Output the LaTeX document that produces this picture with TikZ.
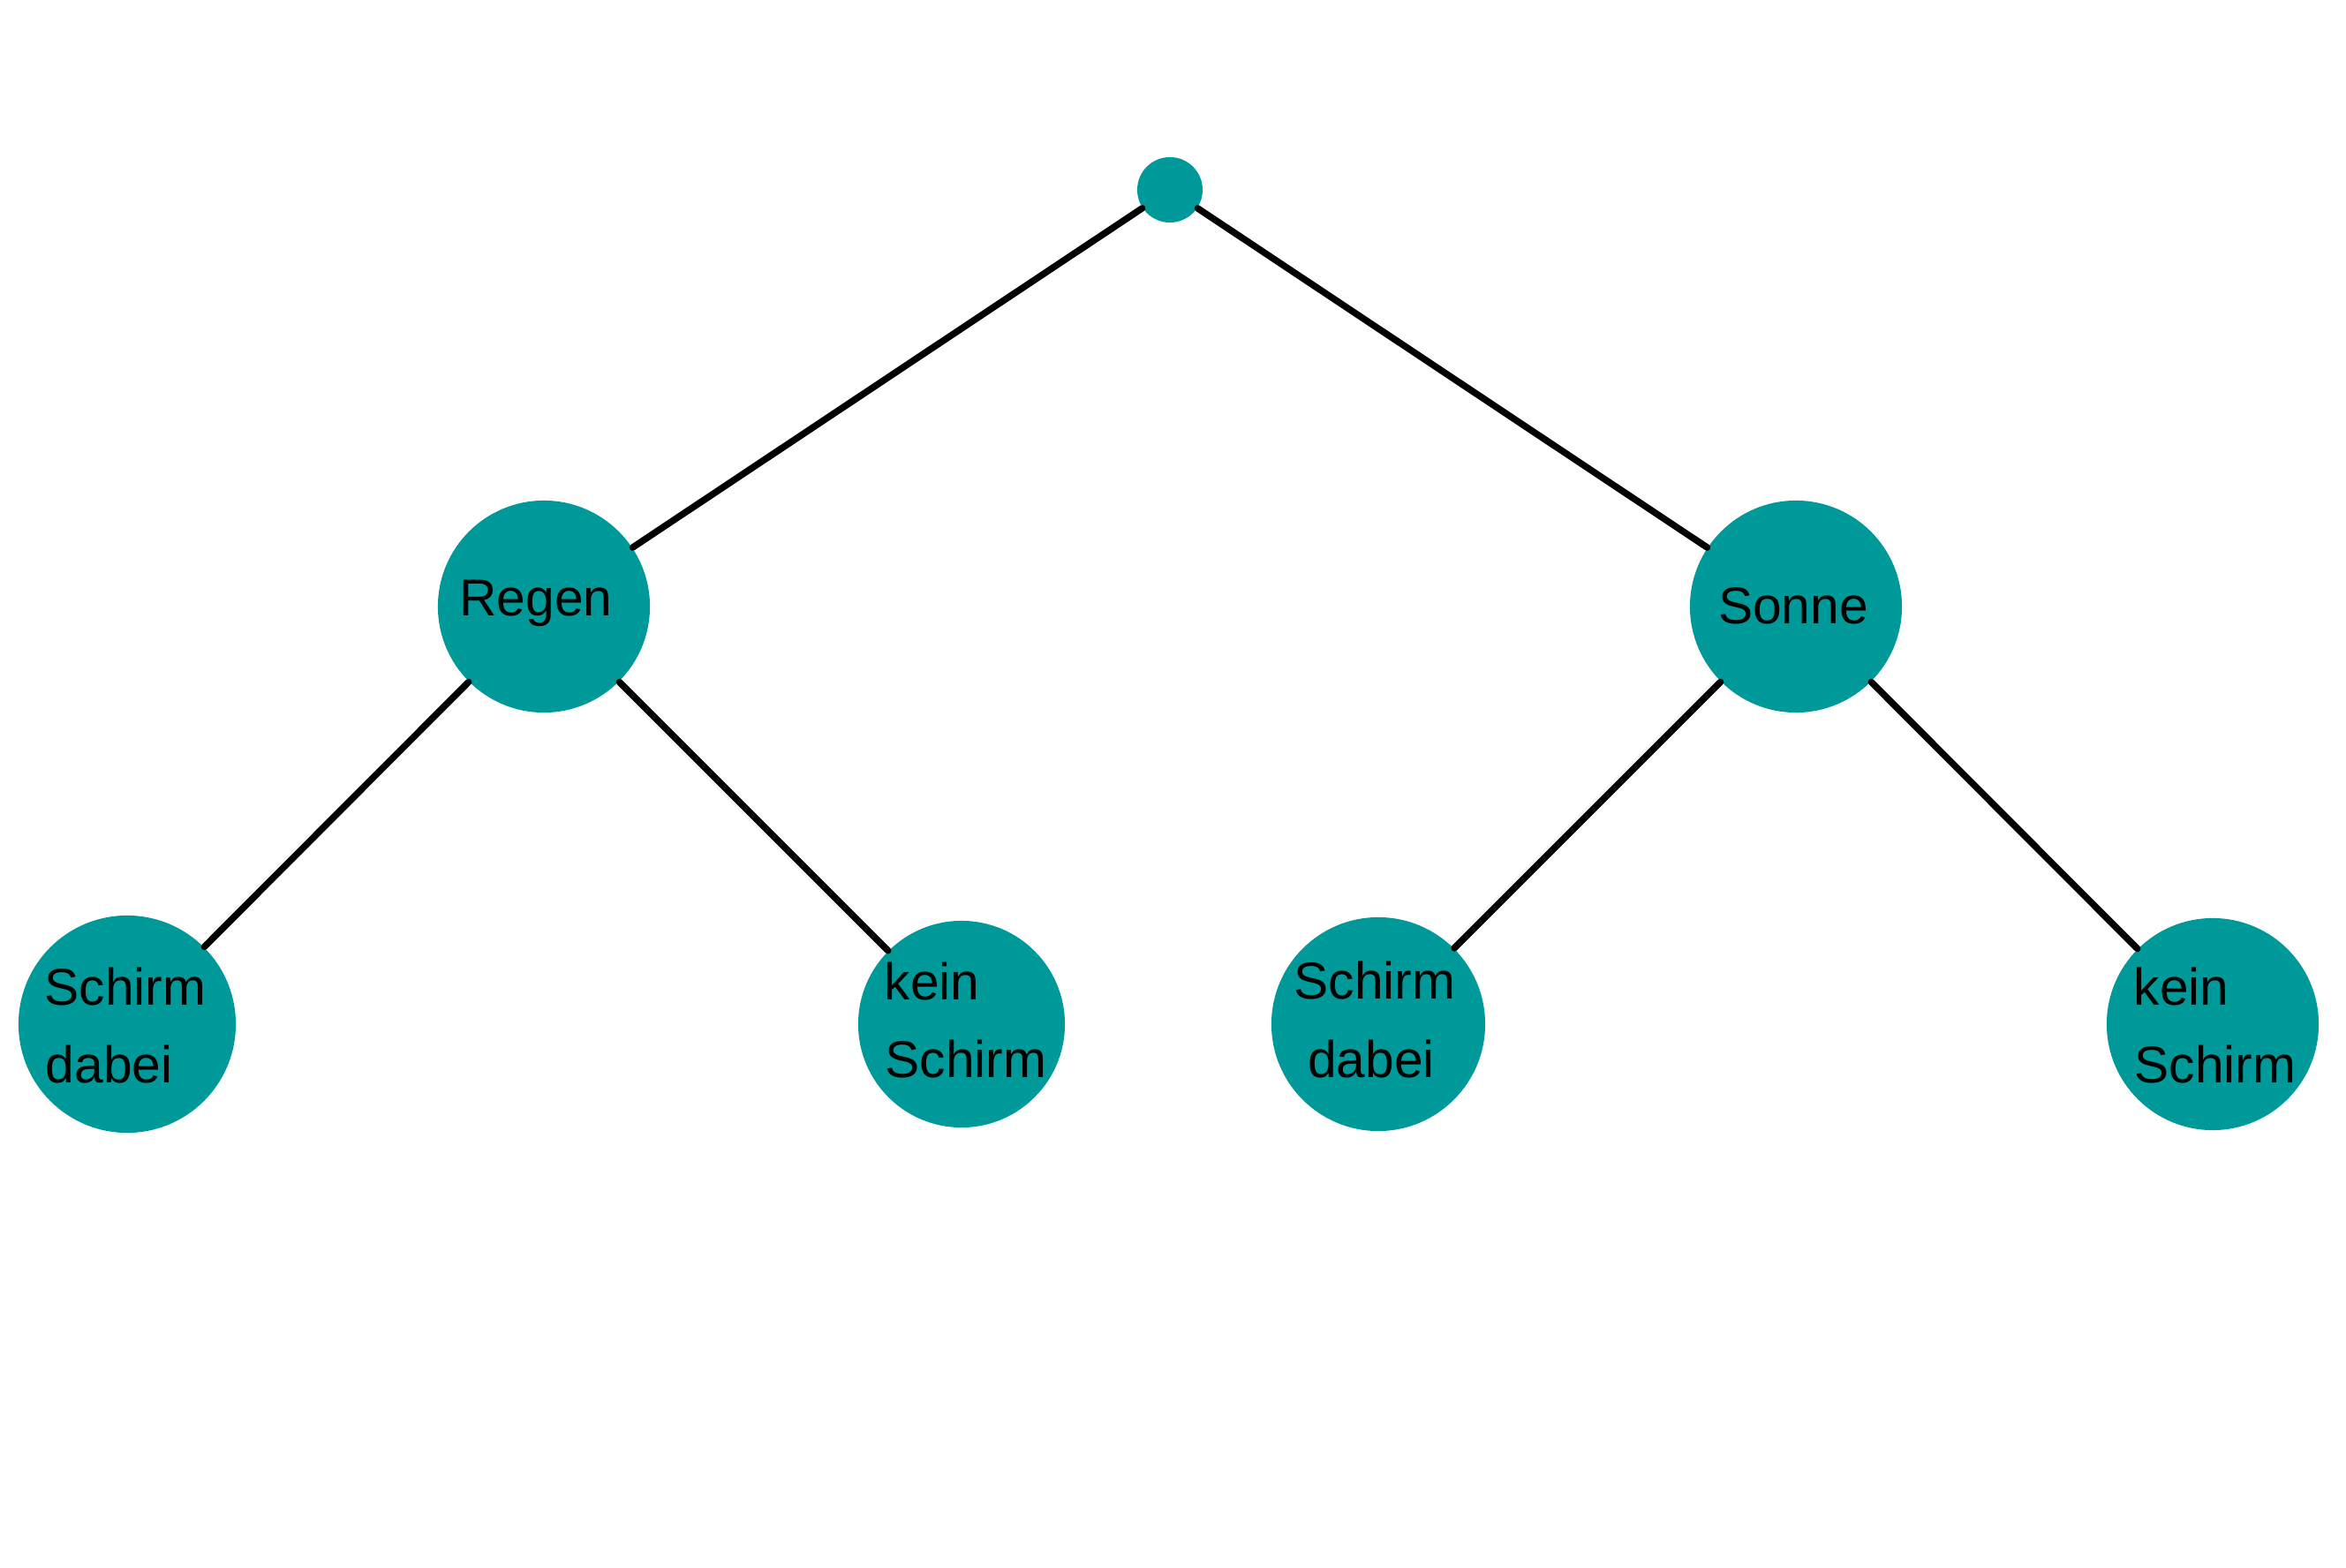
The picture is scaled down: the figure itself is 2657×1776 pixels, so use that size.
\documentclass[tikz,border=0pt]{standalone}
\usepackage{fontspec}
\setmainfont{Liberation Sans}
\definecolor{tealfill}{HTML}{009999}
\begin{document}
\begin{tikzpicture}[x=0.01cm,y=-0.01cm,
  tnode/.style={circle,fill=tealfill,inner sep=0pt,minimum size=#1},
  edge/.style={line width=0.075cm,line cap=round,black},
  lbl/.style={inner sep=0pt,font=\fontsize{16.7}{20}\selectfont}]
\useasboundingbox (0,0) rectangle (2657,1776);
% circles
\node[tnode=0.74cm] (root) at (1325,215) {};
\node[tnode=2.40cm] (regen) at (616,687) {};
\node[tnode=2.40cm] (sonne) at (2034,687) {};
\node[tnode=2.46cm] (l1) at (144,1160) {};
\node[tnode=2.34cm] (l2) at (1089,1160) {};
\node[tnode=2.42cm] (l3) at (1561,1160) {};
\node[tnode=2.40cm] (l4) at (2506,1160) {};
% edges
\draw[edge] (root) -- (regen);
\draw[edge] (root) -- (sonne);
\draw[edge] (regen) -- (l1);
\draw[edge] (regen) -- (l2);
\draw[edge] (sonne) -- (l3);
\draw[edge] (sonne) -- (l4);
% labels
\node[lbl,anchor=base] (tregen) at (607,697) {Regen};
\node[lbl,anchor=base] (tsonne) at (2031,706) {Sonne};
\node[lbl,anchor=base west] (t1a) at (50,1138) {Schirm};
\node[lbl,anchor=base west] (t1b) at (51,1226) {dabei};
\node[lbl,anchor=base west] (t2a) at (1001,1132) {kein};
\node[lbl,anchor=base west] (t2b) at (1002,1220) {Schirm};
\node[lbl,anchor=base] (t3a) at (1557,1131) {Schirm};
\node[lbl,anchor=base] (t3b) at (1553,1220) {dabei};
\node[lbl,anchor=base west] (t4a) at (2416,1138) {kein};
\node[lbl,anchor=base west] (t4b) at (2417,1226) {Schirm};
\end{tikzpicture}
\end{document}
